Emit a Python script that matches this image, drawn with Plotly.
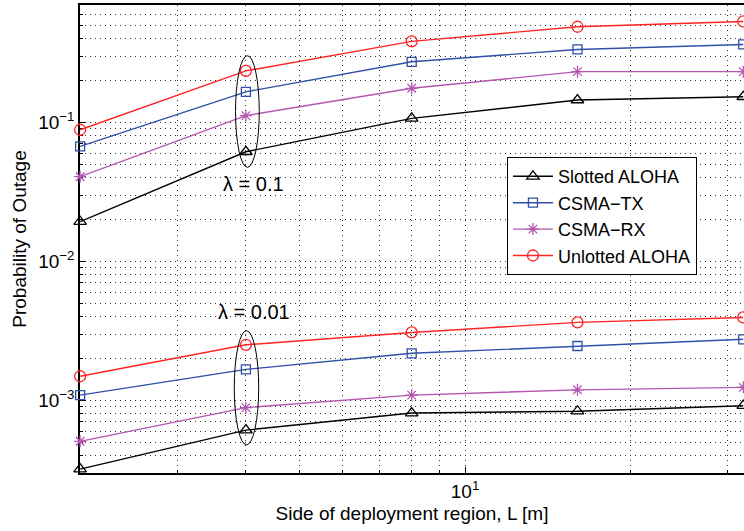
import math
import plotly.graph_objects as go

# ---------------- data ----------------
L = [2, 4, 8, 16, 32]

names = ["Slotted ALOHA", "CSMA\u2212TX", "CSMA\u2212RX", "Unlotted ALOHA"]

# lambda = 0.1
hi_slotted = [0.0193, 0.0615, 0.107, 0.145, 0.153]
hi_csma_tx = [0.0672, 0.166, 0.273, 0.335, 0.364]
hi_csma_rx = [0.0407, 0.112, 0.176, 0.232, 0.232]
hi_unslotted = [0.0886, 0.235, 0.383, 0.488, 0.533]

# lambda = 0.01
lo_slotted = [3.2e-4, 6.1e-4, 8.1e-4, 8.35e-4, 9.15e-4]
lo_csma_tx = [1.09e-3, 1.67e-3, 2.18e-3, 2.46e-3, 2.75e-3]
lo_csma_rx = [5.07e-4, 8.86e-4, 1.09e-3, 1.19e-3, 1.24e-3]
lo_unslotted = [1.49e-3, 2.51e-3, 3.08e-3, 3.64e-3, 3.95e-3]

x_tick_vals = [10]
x_tick_text = ["10<sup>1</sup>"]
x_minor_vals = [3, 4, 5, 6, 7, 8, 9, 20, 30]

y_tick_vals = [1e-3, 1e-2, 1e-1]
y_tick_text = ["10<sup>\u22123</sup>", "10<sup>\u22122</sup>", "10<sup>\u22121</sup>"]
y_minor_vals = [k * 1e-4 for k in range(4, 10)] + [k * 1e-3 for k in range(2, 10)] + \
               [k * 1e-2 for k in range(2, 10)] + [k * 1e-1 for k in range(2, 7)]

x_range = [1.999, 32.1]
y_range = [2.999e-4, 0.7]

# ellipses around the L = 4 points : (x0, x1, y0, y1)
ellipses = [(3.83, 4.23, 0.0475, 0.302), (3.81, 4.22, 4.78e-4, 3.17e-3)]
labels = [("\u03bb = 0.1", 4, 0.0362), ("\u03bb = 0.01", 4, 4.3e-3)]

# ---------------- styles ----------------
colors = ["#000000", "#2f4fa8", "#b455b0", "#ff2424"]
symbols = ["triangle-up-open", "square-open", "asterisk-open", "circle-open"]
sizes = [11, 9, 10, 11]
FONT = "Liberation Sans, Arial, Helvetica, sans-serif"
GRID_DASH = "1px,4px"

fig = go.Figure()
hi = [hi_slotted, hi_csma_tx, hi_csma_rx, hi_unslotted]
lo = [lo_slotted, lo_csma_tx, lo_csma_rx, lo_unslotted]
for i in range(4):
    for grp, show in ((hi, True), (lo, False)):
        fig.add_trace(go.Scatter(
            x=L, y=grp[i], mode="lines+markers", name=names[i],
            legendgroup=names[i], showlegend=show,
            line=dict(color=colors[i], width=1.4),
            marker=dict(symbol=symbols[i], size=sizes[i], color=colors[i],
                        line=dict(color=colors[i], width=1.3)),
            cliponaxis=False,
        ))

for (x0, x1, y0, y1) in ellipses:
    fig.add_shape(type="circle", xref="x", yref="y", x0=x0, x1=x1, y0=y0, y1=y1,
                  line=dict(color="#000000", width=1))

for (txt, xv, yv) in labels:
    fig.add_annotation(x=math.log10(xv), y=math.log10(yv), text=txt, showarrow=False,
                       xanchor="center", yanchor="middle", xshift=8,
                       font=dict(family=FONT, size=20, color="#000000"))

grid_common = dict(showgrid=True, gridcolor="#303030", gridwidth=1, griddash=GRID_DASH)

fig.update_xaxes(
    type="log", range=[math.log10(x_range[0]), math.log10(x_range[1])],
    tickmode="array", tickvals=x_tick_vals, ticktext=x_tick_text,
    ticks="inside", ticklen=6, tickcolor="#000000",
    showline=True, linecolor="#000000", linewidth=1.5, mirror=True,
    zeroline=False, layer="below traces",
    tickfont=dict(family=FONT, size=19, color="#000000"),
    title=dict(text="Side of deployment region, L [m]", standoff=6,
               font=dict(family=FONT, size=19, color="#000000")),
    minor=dict(tickmode="array", tickvals=x_minor_vals, ticks="inside", ticklen=3,
               tickcolor="#000000", showgrid=True, gridcolor="#303030",
               gridwidth=1, griddash=GRID_DASH),
    **grid_common,
)
fig.update_yaxes(
    type="log", range=[math.log10(y_range[0]), math.log10(y_range[1])],
    tickmode="array", tickvals=y_tick_vals, ticktext=y_tick_text,
    ticks="inside", ticklen=6, tickcolor="#000000",
    showline=True, linecolor="#000000", linewidth=1.5, mirror=False,
    zeroline=False, layer="below traces",
    tickfont=dict(family=FONT, size=19, color="#000000"),
    title=dict(text="Probability of Outage", standoff=6,
               font=dict(family=FONT, size=19, color="#000000")),
    minor=dict(tickmode="array", tickvals=y_minor_vals, ticks="inside", ticklen=3,
               tickcolor="#000000", showgrid=True, gridcolor="#303030",
               gridwidth=1, griddash=GRID_DASH),
    **grid_common,
)

fig.update_layout(
    width=744, height=531,
    margin=dict(l=80, r=0, t=5, b=58),
    paper_bgcolor="#ffffff", plot_bgcolor="#ffffff",
    font=dict(family=FONT, size=18, color="#000000"),
    legend=dict(x=0.643, y=0.675, xanchor="left", yanchor="top",
                bgcolor="#ffffff", bordercolor="#000000", borderwidth=1,
                font=dict(family=FONT, size=18, color="#000000"),
                tracegroupgap=0, itemwidth=40),
    showlegend=True,
)

fig.write_html("out.html")
